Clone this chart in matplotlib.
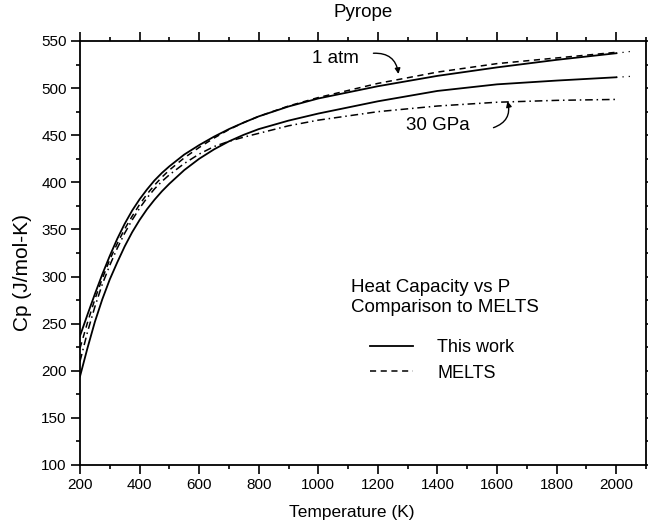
import matplotlib
matplotlib.use("Agg")
import matplotlib.pyplot as plt
from matplotlib.lines import Line2D
from matplotlib.ticker import MultipleLocator

plt.rcParams['font.family'] = ['Liberation Sans', 'DejaVu Sans']

# Data
T_grid = [200, 225, 250, 275, 300, 325, 350, 375, 400, 425, 450, 475, 500, 550, 600, 650,
          700, 750, 800, 900, 1000, 1200, 1400, 1600, 1800, 2000]
cp_work_1atm = [237, 259.5, 281.5, 302.5, 322, 340, 356, 370, 382, 392.5, 402, 410, 417, 429.5,
                439.5, 448.5, 456.5, 463.5, 470, 480.5, 489, 502, 513, 522, 530, 537]
cp_melts_1atm = [224, 251, 276, 298, 318, 335, 350.5, 364, 376.5, 387.5, 397, 405.5, 413, 426,
                 437, 447, 456, 463.5, 470, 481, 490, 505, 517, 526, 532, 538]
cp_work_30 = [194, 224, 252, 276, 297, 315, 332, 347, 360, 371.5, 381.5, 390.5, 398.5, 413,
              425, 435, 443.5, 450.5, 456.5, 465.5, 473, 486, 497, 504, 508, 511.5]
cp_melts_30 = [210, 241, 268, 292, 312, 330, 346, 360, 372.5, 383.5, 393, 401, 408, 420,
               430, 438, 443.5, 448, 452, 460, 466, 475, 481, 485, 487, 488]

# dotted extrapolations of "This work" curves
T_ext = [2000, 2050]
cp_ext_1atm = [537, 539]
cp_ext_30 = [511.5, 512.5]

fig = plt.figure(figsize=(6.48, 5.27), dpi=100)
ax = fig.add_axes([80/648, 1-465/527, 566/648, (465-41)/527])

lw = 1.3
ax.plot(T_grid, cp_work_1atm, color='black', lw=lw)
ax.plot(T_grid, cp_work_30, color='black', lw=lw)
ax.plot(T_grid, cp_melts_1atm, color='black', lw=1.1, dashes=(4, 3))
ax.plot(T_grid, cp_melts_30, color='black', lw=1.1, dashes=(5, 2.5, 1, 2.5))
ax.plot(T_ext, cp_ext_1atm, color='black', lw=0.9, dashes=(1, 4))
ax.plot(T_ext, cp_ext_30, color='black', lw=0.9, dashes=(1, 4))

ax.set_xlim(200, 2100)
ax.set_ylim(100, 550)
ax.xaxis.set_major_locator(MultipleLocator(200))
ax.xaxis.set_minor_locator(MultipleLocator(100))
ax.yaxis.set_major_locator(MultipleLocator(50))
ax.yaxis.set_minor_locator(MultipleLocator(25))
ax.tick_params(which='both', direction='out', top=True, right=True,
               labeltop=False, labelright=False, width=1.2, labelsize=11)
ax.tick_params(which='major', length=6.5, pad=3)
ax.tick_params(which='minor', length=3)
for s in ax.spines.values():
    s.set_linewidth(1.3)

ax.set_title('Pyrope', fontsize=13.5, pad=17)
ax.set_xlabel('Temperature (K)', fontsize=12.5, labelpad=9, x=0.48)
ax.set_ylabel('Cp (J/mol-K)', fontsize=15, labelpad=7, y=0.455)

# annotations
ax.text(1057, 531, '1 atm', fontsize=13.5, ha='center', va='center')
ax.annotate('', xy=(1269, 515), xytext=(1185, 537),
            arrowprops=dict(arrowstyle='-|>', color='black', lw=1,
                            connectionstyle='arc3,rad=-0.45',
                            shrinkA=0, shrinkB=0, mutation_scale=8))
ax.text(1402, 460, '30 GPa', fontsize=13.5, ha='center', va='center')
ax.annotate('', xy=(1635, 486), xytext=(1588, 458),
            arrowprops=dict(arrowstyle='-|>', color='black', lw=1,
                            connectionstyle='arc3,rad=0.45',
                            shrinkA=0, shrinkB=0, mutation_scale=8))

# legend
ax.text(0.479, 0.395, 'Heat Capacity vs P\nComparison to MELTS', transform=ax.transAxes,
        fontsize=13.5, ha='left', va='center', linespacing=1.3)
handles = [Line2D([], [], color='black', lw=lw),
           Line2D([], [], color='black', lw=1.1, dashes=(4, 3))]
ax.legend(handles, ['This work', 'MELTS'], loc='upper left',
          bbox_to_anchor=(0.512, 0.296), frameon=False, fontsize=13,
          handlelength=2.4, handletextpad=1.33, borderpad=0, borderaxespad=0,
          labelspacing=0.45)

fig.savefig('out.png', dpi=100)
